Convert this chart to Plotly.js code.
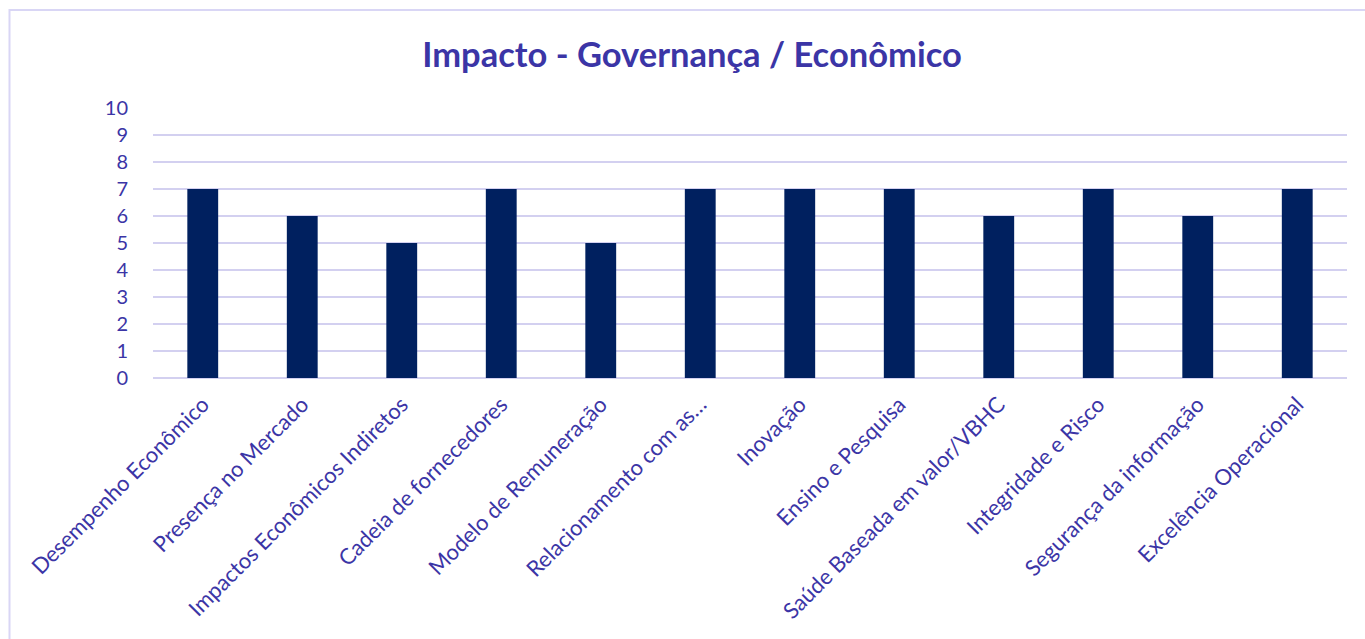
<!DOCTYPE html>
<html>
<head>
<meta charset="utf-8">
<script src="https://cdn.plot.ly/plotly-3.0.1.min.js"></script>
<style>
html,body{margin:0;padding:0;background:#fff;}
#chart{width:1365px;height:639px;}
</style>
</head>
<body>
<div id="chart"></div>
<script>
var categories = [
  "Desempenho Econômico",
  "Presença no Mercado",
  "Impactos Econômicos Indiretos",
  "Cadeia de fornecedores",
  "Modelo de Remuneração",
  "Relacionamento com as…",
  "Inovação",
  "Ensino e Pesquisa",
  "Saúde Baseada em valor/VBHC",
  "Integridade e Risco",
  "Segurança da informação",
  "Excelência Operacional"
];
var values = [7, 6, 5, 7, 5, 7, 7, 7, 6, 7, 6, 7];
var yTicks = [0,1,2,3,4,5,6,7,8,9,10];

var textColor = "#3b35a6";
var gridColor = "#d3d0f0";
var font = "Lato, 'Open Sans', sans-serif";

// plot area in px
var L = 153, R = 1347, T = 108, B = 378;
function px2x(p){ return (p - L) / (R - L); }
function py2y(p){ return (B - p) / (B - T); }

var trace = {
  type: "bar",
  x: categories,
  y: values,
  marker: {color: "#00205f", line: {color: "#00205f", width: 0}},
  width: 0.31,
  hoverinfo: "x+y"
};

var layout = {
  width: 1365, height: 639,
  margin: {l: L, r: 1365 - R, t: T, b: 639 - B, pad: 0},
  paper_bgcolor: "#ffffff",
  plot_bgcolor: "#ffffff",
  showlegend: false,
  title: {
    text: "<b>Impacto - Governança / Econômico</b>",
    font: {family: font, size: 34.5, color: textColor},
    x: (692 - 0) / 1365, xanchor: "center",
    y: 1 - 55/639, yanchor: "middle"
  },
  xaxis: {
    type: "category",
    tickangle: -45,
    tickfont: {family: font, size: 22, color: textColor},
    showgrid: false,
    showline: false,
    zeroline: false,
    ticks: "outside",
    ticklen: 4,
    tickcolor: "rgba(0,0,0,0)",
    automargin: false
  },
  yaxis: {
    range: [0, 10],
    tickmode: "array",
    tickvals: yTicks,
    ticktext: yTicks.map(String),
    tickfont: {family: font, size: 20, color: textColor},
    showgrid: true,
    gridcolor: gridColor,
    gridwidth: 2,
    zeroline: true,
    zerolinecolor: gridColor,
    zerolinewidth: 2,
    showline: false,
    ticks: "outside",
    ticklen: 20,
    tickcolor: "rgba(0,0,0,0)",
    automargin: false
  },
  shapes: [{
    type: "rect", xref: "paper", yref: "paper", layer: "below",
    x0: px2x(9.5), x1: px2x(1400), y0: py2y(700), y1: py2y(10),
    line: {color: "#d9d6f5", width: 2},
    fillcolor: "rgba(0,0,0,0)"
  }]
};

Plotly.newPlot("chart", [trace], layout, {displayModeBar: false, staticPlot: true});
</script>
</body>
</html>
